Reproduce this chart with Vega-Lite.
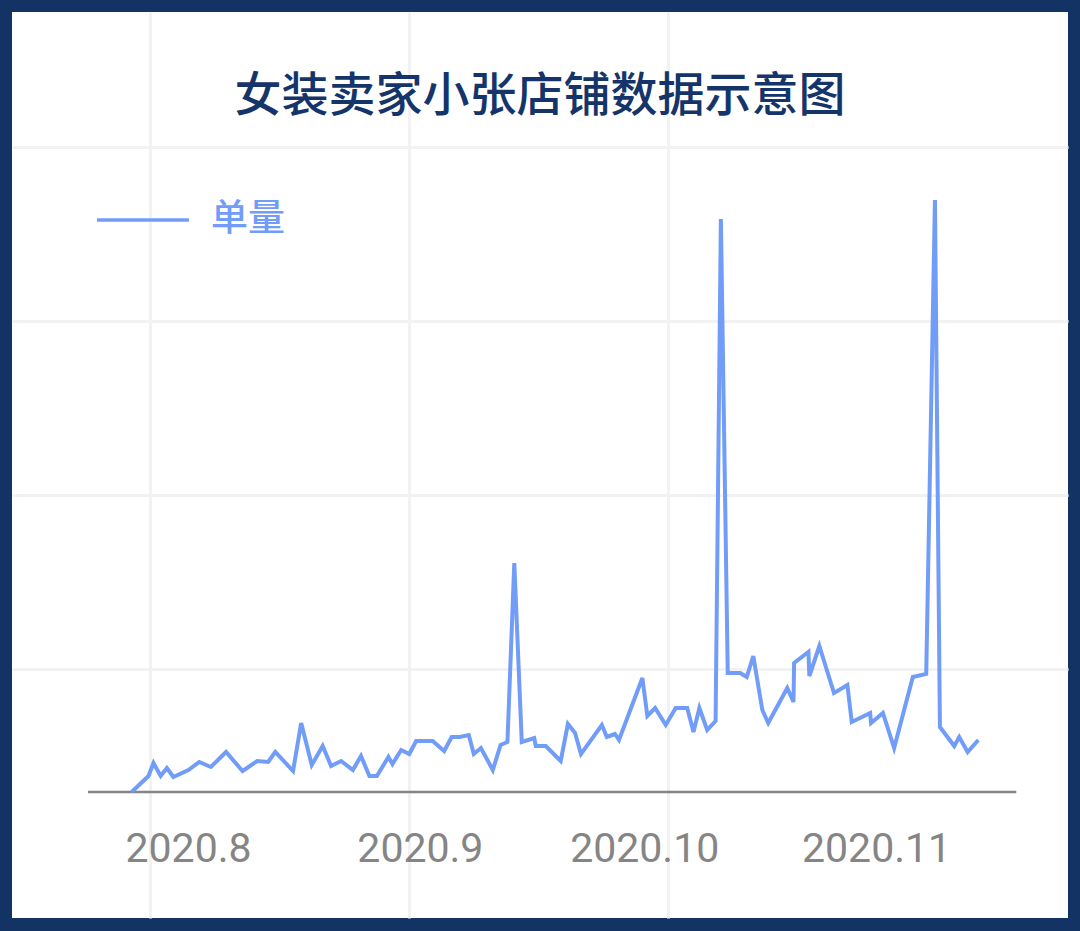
{
  "$schema": "https://vega.github.io/schema/vega-lite/v6.json",
  "autosize": {"type": "fit", "contains": "padding"},
  "width": 1080,
  "height": 931,
  "padding": {"left": 12, "top": 12, "right": 12, "bottom": 13},
  "background": "#123364",
  "view": {"fill": "white", "stroke": null},
  "title": {
    "text": "女装卖家小张店铺数据示意图",
    "font": "Noto Sans CJK SC",
    "fontSize": 47,
    "fontWeight": 500,
    "color": "#15356a",
    "anchor": "middle",
    "frame": "group",
    "baseline": "alphabetic",
    "offset": -146
  },
  "datasets": {
    "sales": [
      {"date": "2020-07-24T11:00Z", "orders": 0},
      {"date": "2020-07-26T17:00Z", "orders": 16},
      {"date": "2020-07-27T09:00Z", "orders": 29},
      {"date": "2020-07-28T08:00Z", "orders": 16},
      {"date": "2020-07-29T04:00Z", "orders": 24},
      {"date": "2020-07-30T01:00Z", "orders": 15},
      {"date": "2020-08-01T01:00Z", "orders": 22},
      {"date": "2020-08-02T12:00Z", "orders": 30},
      {"date": "2020-08-04T01:00Z", "orders": 25},
      {"date": "2020-08-06T02:00Z", "orders": 40},
      {"date": "2020-08-08T07:00Z", "orders": 21},
      {"date": "2020-08-10T06:00Z", "orders": 31},
      {"date": "2020-08-11T17:00Z", "orders": 30},
      {"date": "2020-08-12T16:00Z", "orders": 40},
      {"date": "2020-08-15T01:00Z", "orders": 21},
      {"date": "2020-08-16T03:00Z", "orders": 69},
      {"date": "2020-08-17T13:00Z", "orders": 27},
      {"date": "2020-08-19T00:00Z", "orders": 46},
      {"date": "2020-08-20T03:00Z", "orders": 26},
      {"date": "2020-08-21T11:00Z", "orders": 31},
      {"date": "2020-08-23T01:00Z", "orders": 22},
      {"date": "2020-08-24T03:00Z", "orders": 36},
      {"date": "2020-08-25T06:00Z", "orders": 16},
      {"date": "2020-08-26T06:00Z", "orders": 16},
      {"date": "2020-08-27T19:00Z", "orders": 35},
      {"date": "2020-08-28T08:00Z", "orders": 28},
      {"date": "2020-08-29T12:00Z", "orders": 42},
      {"date": "2020-08-30T14:00Z", "orders": 38},
      {"date": "2020-08-31T12:00Z", "orders": 51},
      {"date": "2020-09-02T17:00Z", "orders": 51},
      {"date": "2020-09-04T06:00Z", "orders": 41},
      {"date": "2020-09-05T06:00Z", "orders": 55},
      {"date": "2020-09-06T08:00Z", "orders": 55},
      {"date": "2020-09-07T13:00Z", "orders": 57},
      {"date": "2020-09-08T05:00Z", "orders": 38},
      {"date": "2020-09-09T04:00Z", "orders": 44},
      {"date": "2020-09-10T18:00Z", "orders": 22},
      {"date": "2020-09-11T19:00Z", "orders": 47},
      {"date": "2020-09-12T17:00Z", "orders": 50},
      {"date": "2020-09-13T15:00Z", "orders": 229},
      {"date": "2020-09-14T15:00Z", "orders": 50},
      {"date": "2020-09-16T07:00Z", "orders": 54},
      {"date": "2020-09-16T12:00Z", "orders": 46},
      {"date": "2020-09-17T20:00Z", "orders": 46},
      {"date": "2020-09-19T20:00Z", "orders": 31},
      {"date": "2020-09-20T19:00Z", "orders": 68},
      {"date": "2020-09-21T18:00Z", "orders": 59},
      {"date": "2020-09-22T13:00Z", "orders": 38},
      {"date": "2020-09-25T08:00Z", "orders": 67},
      {"date": "2020-09-26T00:00Z", "orders": 55},
      {"date": "2020-09-27T02:00Z", "orders": 58},
      {"date": "2020-09-27T15:00Z", "orders": 52},
      {"date": "2020-09-30T18:00Z", "orders": 114},
      {"date": "2020-10-01T10:00Z", "orders": 76},
      {"date": "2020-10-02T11:00Z", "orders": 84},
      {"date": "2020-10-03T21:00Z", "orders": 67},
      {"date": "2020-10-05T05:00Z", "orders": 84},
      {"date": "2020-10-06T18:00Z", "orders": 84},
      {"date": "2020-10-07T14:00Z", "orders": 60},
      {"date": "2020-10-08T09:00Z", "orders": 84},
      {"date": "2020-10-09T10:00Z", "orders": 62},
      {"date": "2020-10-10T13:00Z", "orders": 71},
      {"date": "2020-10-11T06:00Z", "orders": 573},
      {"date": "2020-10-12T04:00Z", "orders": 119},
      {"date": "2020-10-13T20:00Z", "orders": 119},
      {"date": "2020-10-14T17:00Z", "orders": 115},
      {"date": "2020-10-15T14:00Z", "orders": 136},
      {"date": "2020-10-16T19:00Z", "orders": 82},
      {"date": "2020-10-17T14:00Z", "orders": 69},
      {"date": "2020-10-20T03:00Z", "orders": 104},
      {"date": "2020-10-20T23:00Z", "orders": 90},
      {"date": "2020-10-21T01:00Z", "orders": 129},
      {"date": "2020-10-22T23:00Z", "orders": 140},
      {"date": "2020-10-23T02:00Z", "orders": 116},
      {"date": "2020-10-24T10:00Z", "orders": 146},
      {"date": "2020-10-26T09:00Z", "orders": 99},
      {"date": "2020-10-28T04:00Z", "orders": 107},
      {"date": "2020-10-28T18:00Z", "orders": 70},
      {"date": "2020-10-31T05:00Z", "orders": 79},
      {"date": "2020-10-31T08:00Z", "orders": 69},
      {"date": "2020-11-01T22:00Z", "orders": 79},
      {"date": "2020-11-03T10:00Z", "orders": 44},
      {"date": "2020-11-05T22:00Z", "orders": 115},
      {"date": "2020-11-07T17:00Z", "orders": 118},
      {"date": "2020-11-08T21:00Z", "orders": 592},
      {"date": "2020-11-09T13:00Z", "orders": 65},
      {"date": "2020-11-11T11:00Z", "orders": 46},
      {"date": "2020-11-12T03:00Z", "orders": 55},
      {"date": "2020-11-13T06:00Z", "orders": 40},
      {"date": "2020-11-14T16:00Z", "orders": 52}
    ],
    "baseline": [
      {"start": "2020-07-18T15:00Z", "end": "2020-11-19T18:00Z", "orders": 0}
    ]
  },
  "layer": [
    {
      "data": {"name": "baseline"},
      "mark": {"type": "rule", "color": "#858585", "strokeWidth": 2.5},
      "encoding": {
        "x": {
          "field": "start",
          "type": "temporal",
          "scale": {
            "type": "utc",
            "nice": false,
            "domain": [
              {"year": 2020, "month": 7, "date": 8, "hours": 11, "utc": true},
              {"year": 2020, "month": 11, "date": 26, "hours": 16, "utc": true}
            ]
          },
          "axis": {
            "orient": "top",
            "grid": true,
            "values": [
              {"year": 2020, "month": 7, "date": 26, "hours": 22, "utc": true},
              {"year": 2020, "month": 8, "date": 30, "hours": 13, "utc": true},
              {"year": 2020, "month": 10, "date": 4, "hours": 5, "utc": true}
            ],
            "labels": false,
            "ticks": false,
            "domain": false,
            "title": null,
            "gridColor": "#f2f2f2",
            "gridWidth": 3
          }
        },
        "x2": {"field": "end"},
        "y": {
          "field": "orders",
          "type": "quantitative",
          "scale": {"domain": [-126, 780], "nice": false, "zero": false},
          "axis": {
            "grid": true,
            "values": [123, 297, 471, 645],
            "labels": false,
            "ticks": false,
            "domain": false,
            "title": null,
            "gridColor": "#f2f2f2",
            "gridWidth": 3
          }
        }
      }
    },
    {
      "data": {"name": "sales"},
      "mark": {"type": "line", "strokeWidth": 4},
      "encoding": {
        "x": {
          "field": "date",
          "type": "temporal",
          "scale": {
            "type": "utc",
            "nice": false,
            "domain": [
              {"year": 2020, "month": 7, "date": 8, "hours": 11, "utc": true},
              {"year": 2020, "month": 11, "date": 26, "hours": 16, "utc": true}
            ]
          },
          "axis": {
            "orient": "bottom",
            "values": [
              {"year": 2020, "month": 8, "date": 1, "utc": true},
              {"year": 2020, "month": 9, "date": 1, "utc": true},
              {"year": 2020, "month": 10, "date": 1, "utc": true},
              {"year": 2020, "month": 11, "date": 1, "utc": true}
            ],
            "labelExpr": "utcFormat(datum.value, '%Y') + '.' + (utcmonth(datum.value) + 1)",
            "grid": false,
            "ticks": false,
            "tickSize": 0,
            "domain": false,
            "title": null,
            "labelFont": "Roboto",
            "labelFontSize": 41,
            "labelColor": "#858585",
            "labelBaseline": "alphabetic",
            "labelPadding": 0,
            "labelFlush": false,
            "labelOverlap": false,
            "offset": -57
          }
        },
        "y": {
          "field": "orders",
          "type": "quantitative",
          "scale": {"domain": [-126, 780], "nice": false, "zero": false},
          "axis": {
            "grid": true,
            "values": [123, 297, 471, 645],
            "labels": false,
            "ticks": false,
            "domain": false,
            "title": null,
            "gridColor": "#f2f2f2",
            "gridWidth": 3
          }
        },
        "color": {
          "datum": "单量",
          "scale": {"range": ["#719cf7"]},
          "legend": {
            "orient": "none",
            "legendX": 83,
            "legendY": 160,
            "title": null,
            "symbolType": "stroke",
            "symbolSize": 8464,
            "symbolStrokeWidth": 3.5,
            "labelFont": "Noto Sans CJK SC",
            "labelFontSize": 37,
            "labelFontWeight": 500,
            "labelColor": "#719cf7",
            "labelOffset": 20,
            "padding": 0
          }
        }
      }
    }
  ],
  "resolve": {"axis": {"x": "independent"}}
}
